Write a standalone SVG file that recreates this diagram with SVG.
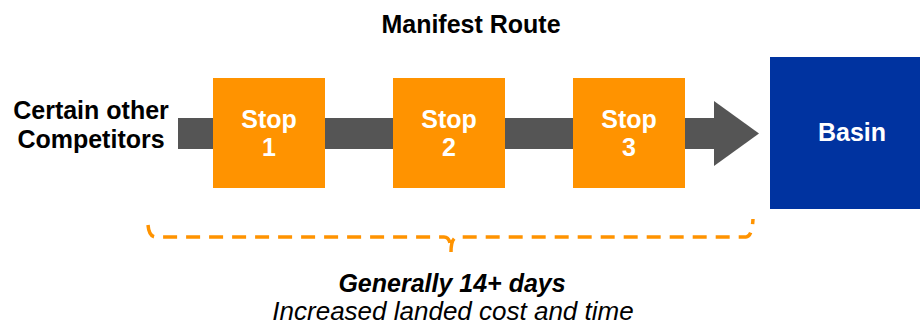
<svg xmlns="http://www.w3.org/2000/svg" width="920" height="325" viewBox="0 0 920 325">
<style>
text{font-family:"Liberation Sans",Arial,sans-serif;}
.b{font-weight:bold;font-size:25px;}
.w{fill:#fff;}
.stop{fill:#FF9300;}
.c{text-anchor:middle;}
</style>
<rect width="920" height="325" fill="#fff"/>
<text class="b c" x="471" y="33" font-size="26">Manifest Route</text>
<g id="connectors">
<rect x="178" y="118" width="537" height="31" fill="#555"/>
<polygon points="714,101 759,133.5 714,166" fill="#555"/>
<path d="M148,225 Q149,237 156,237 L444,237 Q451,237 451,252 Q451,237 458,237 L746,237 Q752,237 753,219" fill="none" stroke="#FF9300" stroke-width="3.5" stroke-dasharray="14,9"/>
</g>
<g id="competitors">
<text class="b c" x="91" y="119">Certain other</text>
<text class="b c" x="91" y="148">Competitors</text>
</g>
<g id="stop1">
<rect class="stop" x="213" y="78" width="112" height="110"/>
<text class="b c w" x="269" y="128">Stop</text>
<text class="b c w" x="269" y="156">1</text>
</g>
<g id="stop2">
<rect class="stop" x="393" y="78" width="112" height="110"/>
<text class="b c w" x="449" y="128">Stop</text>
<text class="b c w" x="449" y="156">2</text>
</g>
<g id="stop3">
<rect class="stop" x="573" y="78" width="112" height="110"/>
<text class="b c w" x="629" y="128">Stop</text>
<text class="b c w" x="629" y="156">3</text>
</g>
<g id="basin">
<rect x="770" y="57" width="150" height="152" fill="#0033A0"/>
<text class="b c w" x="852" y="141">Basin</text>
</g>
<g id="label">
<text class="b c" x="452" y="292" font-size="26.5" font-style="italic">Generally 14+ days</text>
<text class="c" x="453" y="320" font-size="26" font-style="italic">Increased landed cost and time</text>
</g>
</svg>
